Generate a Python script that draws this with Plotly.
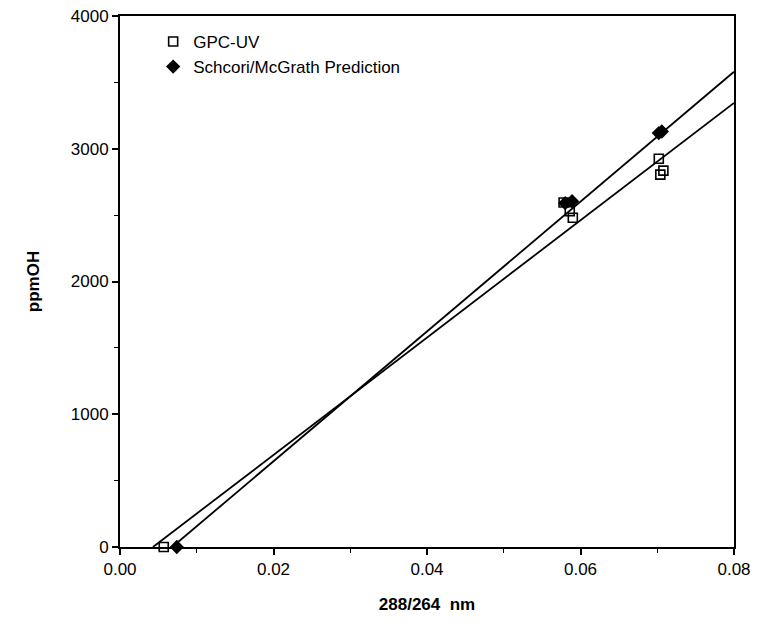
import plotly.graph_objects as go

# GPC-UV measurements (open squares)
gpc_x = [0.0057, 0.0578, 0.0586, 0.0590, 0.0702, 0.0704, 0.0708]
gpc_y = [0, 2595, 2530, 2480, 2925, 2805, 2835]

# Schcori/McGrath prediction (filled markers)
pred_x = [0.0074, 0.0580, 0.0589, 0.0702, 0.0706]
pred_y = [0, 2590, 2605, 3118, 3130]

# fitted lines at their two ends
gpc_fit_x = [0.0043, 0.08]
gpc_fit_y = [0, 3345]
pred_fit_x = [0.0068, 0.08]
pred_fit_y = [0, 3580]

x_ticks = [0.00, 0.02, 0.04, 0.06, 0.08]
y_ticks = [0, 1000, 2000, 3000, 4000]

FONT = "Liberation Sans, Arial, Helvetica, sans-serif"

fig = go.Figure()

# fit lines
fig.add_trace(
    go.Scatter(
        x=gpc_fit_x, y=gpc_fit_y, mode="lines",
        line={"color": "black", "width": 1.8}, showlegend=False, hoverinfo="skip",
    )
)
fig.add_trace(
    go.Scatter(
        x=pred_fit_x, y=pred_fit_y, mode="lines",
        line={"color": "black", "width": 1.8}, showlegend=False, hoverinfo="skip",
    )
)

# data points
fig.add_trace(
    go.Scatter(
        x=gpc_x, y=gpc_y, mode="markers", name="GPC-UV",
        marker={"symbol": "square-open", "size": 9, "color": "black",
                "line": {"color": "black", "width": 1.6}},
        cliponaxis=False,
    )
)
fig.add_trace(
    go.Scatter(
        x=pred_x, y=pred_y, mode="markers", name="Schcori/McGrath Prediction",
        marker={"symbol": "diamond", "size": 11, "color": "black"},
        cliponaxis=False,
    )
)

axis_common = {
    "showline": True, "linecolor": "black", "linewidth": 1.8, "mirror": True,
    "ticks": "outside", "tickcolor": "black", "tickwidth": 1.5, "ticklen": 6,
    "showgrid": False, "zeroline": False, "automargin": False,
    "tickfont": {"family": FONT, "size": 17, "color": "black"},
}

fig.update_layout(
    width=758, height=625,
    paper_bgcolor="white", plot_bgcolor="white",
    margin={"l": 120, "r": 24, "t": 16, "b": 78},
    font={"family": FONT, "color": "black"},
    xaxis={
        **axis_common,
        "range": [0, 0.08],
        "tickmode": "array", "tickvals": x_ticks,
        "ticktext": [f"{v:.2f}" for v in x_ticks],
        "minor": {"dtick": 0.01, "ticks": "outside", "ticklen": 4,
                  "tickcolor": "black", "tickwidth": 1.2},
        "title": {"text": "<b>288/264  nm</b>", "standoff": 20,
                  "font": {"family": FONT, "size": 17}},
    },
    yaxis={
        **axis_common,
        "range": [0, 4000],
        "tickmode": "array", "tickvals": y_ticks,
        "minor": {"dtick": 500, "ticks": "outside", "ticklen": 4,
                  "tickcolor": "black", "tickwidth": 1.2},
        "title": {"text": "<b>ppmOH</b>", "standoff": 27,
                  "font": {"family": FONT, "size": 17}},
    },
    legend={
        "x": 0.054, "y": 0.985, "xanchor": "left", "yanchor": "top",
        "bgcolor": "rgba(0,0,0,0)", "borderwidth": 0,
        "font": {"family": FONT, "size": 17, "color": "black"},
        "tracegroupgap": 2,
    },
)

# drop the default body margin so the figure sits at the window's corner
fig.write_html(
    "out.html",
    config={"displayModeBar": False},
    post_script="document.body.style.margin = '0';",
)
